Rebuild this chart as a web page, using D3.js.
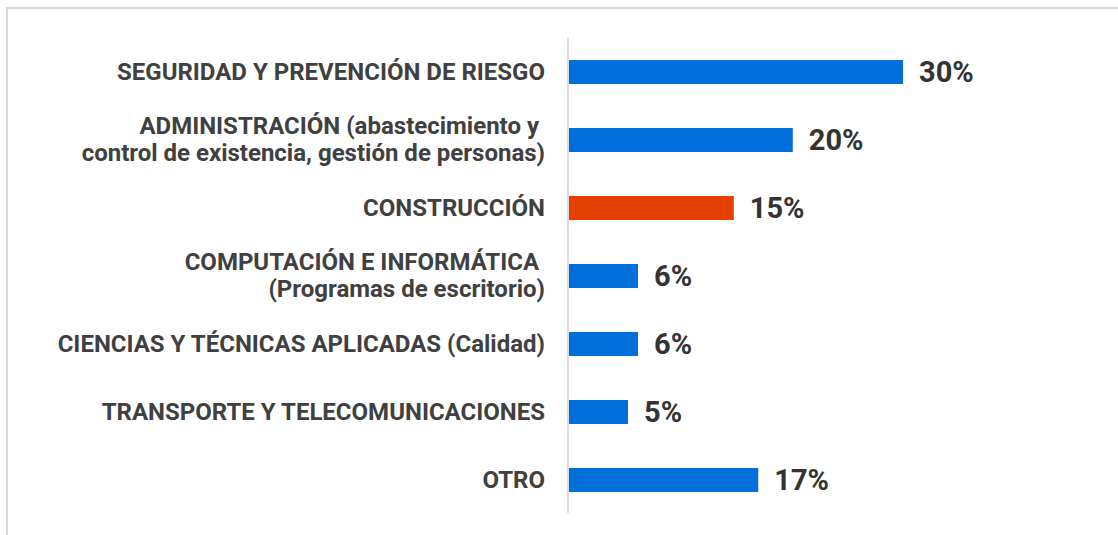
<!DOCTYPE html>
<html>
<head>
<meta charset="utf-8">
<script src="https://cdn.jsdelivr.net/npm/d3@7"></script>
<style>
  body { margin: 0; background: #fff; }
  svg { display: block; font-family: Roboto, "Noto Sans", sans-serif; }
</style>
</head>
<body>
<svg id="chart" width="1118" height="535"></svg>
<script>
// categories, each label split in lines
const categories = [
    ["SEGURIDAD Y PREVENCIÓN DE RIESGO"],
    ["ADMINISTRACIÓN (abastecimiento y ", "control de existencia, gestión de personas)"],
    ["CONSTRUCCIÓN"],
    ["COMPUTACIÓN E INFORMÁTICA ", "(Programas de escritorio)"],
    ["CIENCIAS Y TÉCNICAS APLICADAS (Calidad)"],
    ["TRANSPORTE Y TELECOMUNICACIONES"],
    ["OTRO"]
];
const values = [30.0, 20.1, 14.8, 6.2, 6.2, 5.3, 17.0];
const highlight = [false, false, true, false, false, false, false];

const width = 1118;
const height = 535;
const x0 = 569;

const svg = d3.select("#chart");

// frame
svg.append("path")
    .attr("d", `M7,${height}V8H${width}`)
    .attr("fill", "none")
    .attr("stroke", "#d9d9d9")
    .attr("stroke-width", 2);

const x = d3.scaleLinear().domain([0, 30]).range([x0, 903]);
const y = d3.scaleBand()
    .domain(d3.range(categories.length))
    .range([38, 514])
    .paddingInner(0.647)
    .paddingOuter(0.324);

// bars
svg.append("g")
    .selectAll("rect")
    .data(values)
    .join("rect")
    .attr("x", x(0))
    .attr("y", (d, i) => y(i))
    .attr("width", d => x(d) - x(0))
    .attr("height", y.bandwidth())
    .attr("fill", (d, i) => highlight[i] ? "#e54000" : "#006fdc");

// axis line
svg.append("line")
    .attr("x1", x0 - 1).attr("x2", x0 - 1)
    .attr("y1", 38).attr("y2", 513)
    .attr("stroke", "#cfcfcf")
    .attr("stroke-width", 1.5);

// category labels
const lineH = 27;
svg.append("g")
    .selectAll("text")
    .data(categories)
    .join("text")
    .attr("text-anchor", "end")
    .attr("font-weight", "bold")
    .attr("font-size", 24)
    .attr("fill", "#404040")
    .attr("xml:space", "preserve")
    .each(function(lines, i) {
        const cy = y(i) + y.bandwidth() / 2;
        const top = cy - (lines.length - 1) * lineH / 2;
        d3.select(this).selectAll("tspan")
            .data(lines)
            .join("tspan")
            .attr("x", 545)
            .attr("y", (l, j) => top + j * lineH)
            .attr("dy", lines.length > 1 ? "0.3em" : "0.35em")
            .text(l => l);
    });

// value labels
svg.append("g")
    .selectAll("text")
    .data(values)
    .join("text")
    .attr("x", d => x(d) + 16)
    .attr("y", (d, i) => y(i) + y.bandwidth() / 2)
    .attr("dy", "0.36em")
    .attr("font-weight", "bold")
    .attr("font-size", 29)
    .attr("fill", "#333")
    .text(d => Math.round(d) + "%");
</script>
</body>
</html>
